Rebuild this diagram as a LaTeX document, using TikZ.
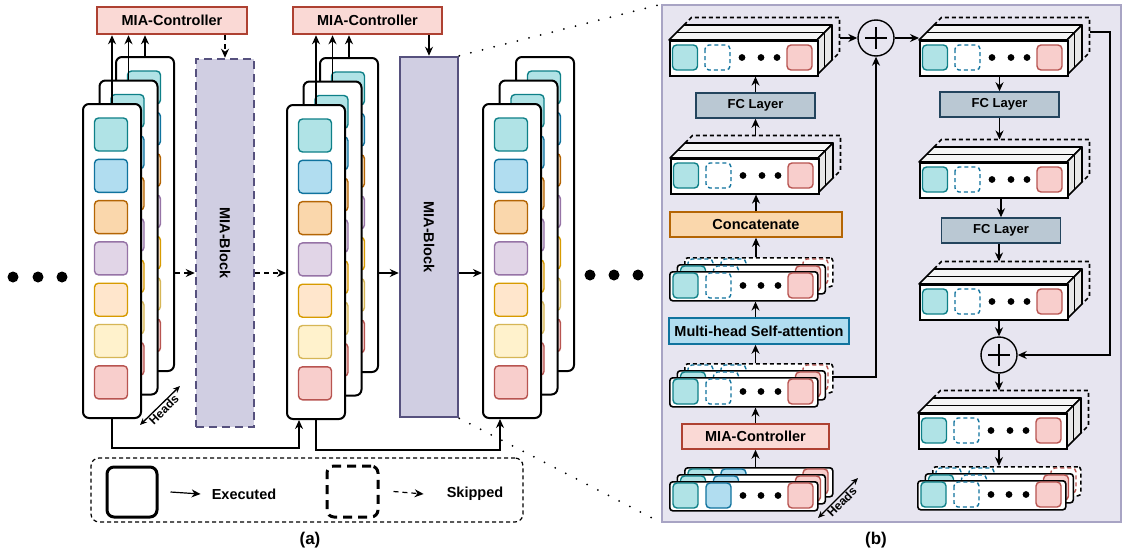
\documentclass[tikz,border=0pt]{standalone}
\usepackage{fontspec}
\setmainfont{Liberation Sans}
\usetikzlibrary{arrows.meta}

\definecolor{tealF}{HTML}{B0E3E6}
\definecolor{tealD}{HTML}{0E8088}
\definecolor{blueF}{HTML}{B1DDF0}
\definecolor{blueD}{HTML}{10739E}
\definecolor{orangeF}{HTML}{FAD7AC}
\definecolor{orangeD}{HTML}{B46504}
\definecolor{purpleF}{HTML}{E1D5E7}
\definecolor{purpleD}{HTML}{9673A6}
\definecolor{lightF}{HTML}{FFE6CC}
\definecolor{lightD}{HTML}{D79B00}
\definecolor{yellowF}{HTML}{FFF2CC}
\definecolor{yellowD}{HTML}{D6B656}
\definecolor{redF}{HTML}{F8CECC}
\definecolor{redD}{HTML}{B85450}
\definecolor{ctlF}{HTML}{FAD9D5}
\definecolor{ctlD}{HTML}{AE4132}
\definecolor{blkF}{HTML}{D0CEE2}
\definecolor{blkD}{HTML}{56517E}
\definecolor{fcF}{HTML}{BAC8D3}
\definecolor{fcD}{HTML}{23445D}
\definecolor{panelF}{HTML}{E7E5F0}
\definecolor{panelD}{HTML}{A8A4C4}

\tikzset{
  arr/.style={-{Stealth[length=9pt,width=8pt]}, line width=1.4pt},
  dasharr/.style={arr, dash pattern=on 5pt off 4pt},
  lbl/.style={font=\fontsize{14.5}{16}\selectfont\bfseries, inner sep=0pt},
  cardbox/.style={draw, fill=white, line width=2pt, rounded corners=6pt,
    minimum width=58pt, minimum height=314pt, anchor=north west, inner sep=0pt},
  tok/.style={line width=1.4pt, rounded corners=4pt},
  tkteal/.style={tok, draw=tealD, fill=tealF},
  tkblue/.style={tok, draw=blueD, fill=blueF},
  tkorange/.style={tok, draw=orangeD, fill=orangeF},
  tkpurple/.style={tok, draw=purpleD, fill=purpleF},
  tklight/.style={tok, draw=lightD, fill=lightF},
  tkyellow/.style={tok, draw=yellowD, fill=yellowF},
  tkred/.style={tok, draw=redD, fill=redF},
  tkskip/.style={tok, draw=blueD, fill=white, dash pattern=on 4pt off 3pt},
  tkoffr/.style={tok, draw=redD, fill=white, dash pattern=on 4pt off 3pt},
  tokrow/.style={draw, fill=white, line width=1.6pt, rounded corners=3pt,
    minimum width=148pt, minimum height=29pt, anchor=north west, inner sep=0pt},
  offrow/.style={dash pattern=on 4pt off 3pt},
  slab/.style={line width=1.6pt, line join=round},
  slabdash/.style={slab, dash pattern=on 4pt off 3pt},
  slabface/.style={draw, fill=white, line width=1.6pt, minimum width=148pt,
    minimum height=35pt, anchor=north west, inner sep=0pt},
  ctl/.style={lbl, draw=ctlD, fill=ctlF},
  fc/.style={lbl, draw=fcD, fill=fcF, line width=1.5pt, minimum width=119pt, minimum height=25pt,
    font=\fontsize{13}{15}\selectfont\bfseries},
  blk/.style={draw=blkD, fill=blkF, line width=2.5pt, minimum width=58pt, inner sep=0pt},
  plusnode/.style={circle, draw, line width=1.4pt, minimum size=36pt, inner sep=0pt,
    path picture={\draw[line width=1.2pt]
      ([xshift=-11pt]path picture bounding box.center) -- ([xshift=11pt]path picture bounding box.center)
      ([yshift=-11pt]path picture bounding box.center) -- ([yshift=11pt]path picture bounding box.center);}},
  headsarr/.style={{Stealth[length=7pt,width=6pt]}-{Stealth[length=7pt,width=6pt]}, line width=1.3pt},
  headslbl/.style={font=\fontsize{12}{13}\selectfont\bfseries, sloped, below, inner sep=0.5pt},
  bigdot/.style={fill=black},
  zoomline/.style={line width=2pt, line cap=round, dash pattern=on 0pt off 12pt},
}

% one head: a tall card of seven tokens
\newcommand{\headcard}[3]{%
  \node[cardbox] (#3) at (#1,#2) {};
  \foreach \c [count=\i from 0] in {tkteal,tkblue,tkorange,tkpurple,tklight,tkyellow,tkred}
    \draw[\c] (#1+12.5,#2+15+41.3*\i) rectangle ++(33,33);
}
% three heads, back to front
\newcommand{\headstack}[3]{%
  \headcard{#1+33}{#2-47}{#3c}
  \headcard{#1+16.5}{#2-23.5}{#3b}
  \headcard{#1}{#2}{#3a}
}
% a flat row of tokens
\newcommand{\headrow}[7]{%
  \node[tokrow, #4] (#3) at (#1,#2) {};
  \draw[#5] (#1+4,#2+2) rectangle ++(25,25);
  \draw[#6] (#1+37,#2+2) rectangle ++(25,25);
  \foreach \d in {74,92,109} \fill (#1+\d,#2+14.5) circle (3.4pt);
  \draw[#7] (#1+119,#2+2) rectangle ++(25,25);
}
\newcommand{\skipstack}[3]{%
  \headrow{#1+15}{#2-14}{#3-c}{offrow}{tkskip}{tkskip}{tkoffr}
  \headrow{#1+7.5}{#2-7}{#3-b}{}{tkteal}{tkskip}{tkred}
  \headrow{#1}{#2}{#3}{}{tkteal}{tkskip}{tkred}
  \coordinate (#3-top) at (#1,#2-14);
  \coordinate (#3-r) at (#1+163,#2);
}
\newcommand{\inputstack}[3]{%
  \headrow{#1+15}{#2-14}{#3-c}{}{tkteal}{tkblue}{tkred}
  \headrow{#1+7.5}{#2-7}{#3-b}{}{tkteal}{tkblue}{tkred}
  \headrow{#1}{#2}{#3}{}{tkteal}{tkblue}{tkred}
  \coordinate (#3-top) at (#1,#2-14);
}
% a block of token slabs, drawn in 3D
\newcommand{\tokslab}[3]{%
  \draw[slabdash] (#1+15,#2-15) -- (#1+22.5,#2-22.5) -- (#1+170.5,#2-22.5)
    -- (#1+170.5,#2+12.5) -- (#1+163,#2+20);
  \draw[slab, fill=gray!8] (#1,#2) -- (#1+15,#2-15) -- (#1+163,#2-15) -- (#1+148,#2) -- cycle;
  \draw[slab, fill=gray!18] (#1+148,#2) -- (#1+163,#2-15) -- (#1+163,#2+20) -- (#1+148,#2+35) -- cycle;
  \draw[slab] (#1+7.5,#2-7.5) -- (#1+155.5,#2-7.5) -- (#1+155.5,#2+27.5);
  \node[slabface] (#3) at (#1,#2) {};
  \draw[tkteal] (#1+3.5,#2+5) rectangle ++(25,25);
  \draw[tkskip] (#1+36,#2+5) rectangle ++(25,25);
  \foreach \d in {73,92,108} \fill (#1+\d,#2+17.5) circle (3.4pt);
  \draw[tkred] (#1+118,#2+5) rectangle ++(25,25);
  \coordinate (#3-top) at (#1,#2-22.5);
  \coordinate (#3-r) at (#1+170.5,#2);
}

\begin{document}
\begin{tikzpicture}[x=1pt, y=-1pt]
  \useasboundingbox (0,0) rectangle (1124,557);

  % ---------------- (a) ----------------
  % controllers and blocks
  \node[ctl, line width=2.5pt, minimum width=150pt, minimum height=27pt] (ctl1) at (172,20.5) {MIA-Controller};
  \node[ctl, line width=2.5pt, minimum width=149pt, minimum height=27pt] (ctl2) at (367.5,20.5) {MIA-Controller};
  \node[blk, minimum height=368pt, dash pattern=on 8pt off 5pt] (blk1) at (225,243) {};
  \node[lbl, rotate=-90] at (blk1.center) {MIA-Block};
  \node[blk, minimum height=360pt] (blk2) at (429,237) {};
  \node[lbl, rotate=-90] at (blk2.center) {MIA-Block};

  % head stacks
  \headstack{82}{103}{s1}
  \headstack{286}{104}{s2}
  \headstack{482}{103}{s3}

  % heads to controllers
  \foreach \k in {a,b,c} {
    \draw[arr] (s1\k.north) -- (s1\k.north |- ctl1.south);
    \draw[arr] (s2\k.north) -- (s2\k.north |- ctl2.south);
  }
  \draw[dasharr] (ctl1.south -| blk1.north) -- (blk1.north);
  \draw[arr] (ctl2.south -| blk2.north) -- (blk2.north);

  % main flow
  \coordinate (flow) at (0,273);
  \draw[dasharr] (s1c.east |- flow) -- (blk1.west |- flow);
  \draw[dasharr] (blk1.east |- flow) -- (s2a.west |- flow);
  \draw[arr] (s2c.east |- flow) -- (blk2.west |- flow);
  \draw[arr] (blk2.east |- flow) -- (s3a.west |- flow);

  % residual paths
  \draw[arr] (s1a.south) -- ++(0,29) -| ([xshift=13pt]s2a.south west);
  \draw[arr] (s2a.south) -- ++(0,30) -| ([xshift=18pt]s3a.south west);

  % heads axis
  \coordinate (hdA1) at (140,425);
  \coordinate (hdA2) at (180,386);
  \draw[headsarr] (hdA1) -- (hdA2) node[midway, headslbl] {Heads};

  % dots
  \foreach \x in {13,38,62} \fill[bigdot] (\x,277) circle (5.5pt);
  \foreach \x in {590,614,638} \fill[bigdot] (\x,275) circle (5.5pt);

  % legend
  \node[draw, line width=1.2pt, dash pattern=on 4pt off 3pt, rounded corners=8pt,
    minimum width=432pt, minimum height=64pt] (leg) at (307,490) {};
  \node[draw, line width=3pt, rounded corners=7pt, minimum size=50pt] (legEx) at (132,492) {};
  \node[lbl] (legExLbl) at (244,494) {Executed};
  \node[draw, line width=3pt, rounded corners=7pt, dash pattern=on 9pt off 6pt, minimum size=51pt] (legSk) at (352.5,491.5) {};
  \node[lbl] (legSkLbl) at (475,494) {Skipped};
  \draw[arr, line width=1.2pt] ([xshift=12pt]legEx.east) -- ([xshift=-11pt]legExLbl.west);
  \draw[dasharr, line width=1.2pt] ([xshift=14pt]legSk.east) -- ([xshift=-23pt]legSkLbl.west);

  \node[lbl, font=\fontsize{17}{19}\selectfont\bfseries] (capA) at (310,540) {(a)};

  % ---------------- (b) ----------------
  \node[draw=panelD, fill=panelF, line width=1.5pt, minimum width=459pt, minimum height=517pt,
    inner sep=0pt] (panel) at (891.5,263.5) {};
  \draw[zoomline] (blk2.north east) -- (panel.north west);
  \draw[zoomline] (blk2.south east) -- (panel.south west);

  % left column
  \inputstack{669}{481}{inS}
  \node[ctl, line width=1.5pt, minimum width=147pt, minimum height=25pt] (ctlB) at (755.5,436.5) {MIA-Controller};
  \skipstack{669}{377}{sL1}
  \node[lbl, draw=blueD, fill=blueF, line width=1.5pt, minimum width=180pt, minimum height=26pt] (mha) at (759,331) {Multi-head Self-attention};
  \skipstack{669}{271}{sL2}
  \node[lbl, draw=orangeD, fill=orangeF, line width=1.5pt, minimum width=172pt, minimum height=25pt] (cat) at (756,224.5) {Concatenate};
  \tokslab{670}{158}{rowB}
  \node[fc] (fcL) at (755.5,105.5) {FC Layer};
  \tokslab{669}{40}{rowA}

  \draw[arr] (inS-top -| ctlB.south) -- (ctlB.south);
  \draw[arr] (ctlB.north) -- (ctlB.north |- sL1.south);
  \draw[arr] (sL1-top -| ctlB.north) -- (mha.south -| ctlB.north);
  \draw[arr] (mha.north -| ctlB.north) -- (sL2.south -| ctlB.north);
  \draw[arr] (sL2-top -| cat.south) -- (cat.south);
  \draw[arr] (cat.north) -- (cat.north |- rowB.south);
  \draw[arr] (rowB-top -| fcL.south) -- (fcL.south);
  \draw[arr] (fcL.north) -- (fcL.north |- rowA.south);

  % right column
  \node[plusnode] (plusT) at (876,38) {};
  \tokslab{919}{40}{r1}
  \node[fc] (fcR1) at (999.5,104.5) {FC Layer};
  \tokslab{919}{162}{r2}
  \node[fc] (fcR2) at (1001,230.5) {FC Layer};
  \tokslab{919}{284}{r3}
  \node[plusnode] (plusB) at (999,355) {};
  \tokslab{918}{413}{r4}
  \skipstack{917}{480}{sR}

  \draw[arr] (rowA-r |- plusT.west) -- (plusT.west);
  \draw[arr] (plusT.east) -- (plusT.east -| r1.west);
  \draw[arr] (sL1-r) -| (plusT.south);
  \coordinate (rskip) at (1110,32);
  \draw[arr] (rskip -| r1-r) -- (rskip) |- (plusB.east);

  \draw[arr] (r1.south -| fcR1.north) -- (fcR1.north);
  \draw[arr] (fcR1.south) -- (fcR1.south |- r2-top);
  \draw[arr] (r2.south -| fcR2.north) -- (fcR2.north);
  \draw[arr] (fcR2.south -| plusB.north) -- (plusB.north |- r3-top);
  \draw[arr] (r3.south -| plusB.north) -- (plusB.north);
  \draw[arr] (plusB.south) -- (plusB.south |- r4-top);
  \draw[arr] (r4.south -| plusB.south) -- (plusB.south |- sR-top);

  % heads axis
  \coordinate (hdB1) at (818,518);
  \coordinate (hdB2) at (858,478);
  \draw[headsarr] (hdB1) -- (hdB2) node[midway, headslbl] {Heads};

  \node[lbl, font=\fontsize{17}{19}\selectfont\bfseries] (capB) at (876,540) {(b)};
\end{tikzpicture}
\end{document}
